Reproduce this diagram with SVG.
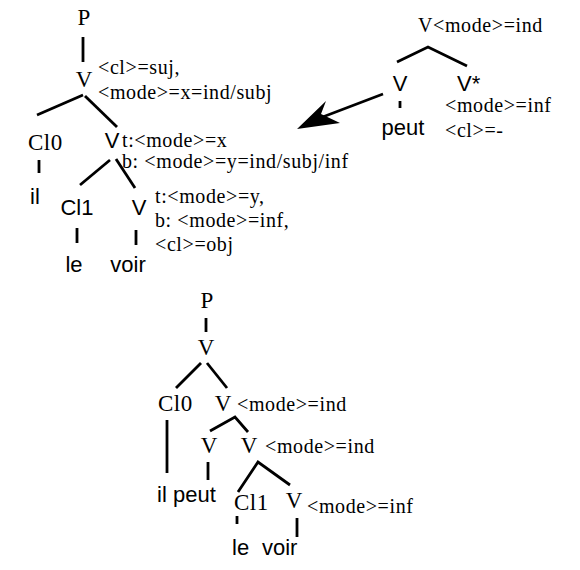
<svg xmlns="http://www.w3.org/2000/svg" width="580" height="570" viewBox="0 0 580 570">
<style>
.ann{font-family:"Liberation Serif","Times New Roman",serif;font-size:20px;letter-spacing:0.6px;fill:#000}
.ns{font-family:"Liberation Serif","Times New Roman",serif;font-size:23px;fill:#000}
.sn{font-family:"Liberation Sans",Arial,sans-serif;font-size:22px;fill:#000}
.m{text-anchor:middle}
.e{stroke:#000;stroke-width:2.8;fill:none;stroke-linecap:butt}
</style>
<rect width="580" height="570" fill="#fff"/>
<g id="connectors">
  <line class="e" x1="83" y1="37" x2="83" y2="62"/>
  <line class="e" x1="83" y1="95" x2="37" y2="115"/>
  <line class="e" x1="85" y1="96" x2="117" y2="127"/>
  <line class="e" x1="39" y1="160" x2="39" y2="173"/>
  <line class="e" x1="110" y1="160" x2="80" y2="185"/>
  <line class="e" x1="116" y1="159" x2="135" y2="188"/>
  <line class="e" x1="77" y1="228" x2="77" y2="243"/>
  <line class="e" x1="136" y1="230" x2="136" y2="245"/>
  <polyline class="e" points="397,62 428,47 467,66"/>
  <line class="e" x1="400" y1="101" x2="400" y2="108"/>
  <line class="e" x1="383" y1="94" x2="320" y2="118" stroke-width="4.5"/>
  <polygon points="297,129 326,101 321,114 340,123" fill="#000"/>
  <line class="e" x1="206" y1="318" x2="206" y2="332"/>
  <line class="e" x1="201" y1="363" x2="176" y2="388"/>
  <line class="e" x1="207" y1="363" x2="227" y2="388"/>
  <line class="e" x1="167" y1="420" x2="167" y2="473"/>
  <polyline class="e" points="210,431 235,417 248,432"/>
  <line class="e" x1="208" y1="462" x2="208" y2="480"/>
  <polyline class="e" points="238,492 258,462 290,485"/>
  <line class="e" x1="237" y1="516" x2="237" y2="524"/>
  <line class="e" x1="297" y1="518" x2="297" y2="537"/>
</g>
<g id="t1-P"><text class="ns m" x="84" y="25">P</text></g>
<g id="t1-V"><text class="ns m" x="84" y="87">V</text>
  <text class="ann" x="98" y="74">&lt;cl&gt;=suj,</text>
  <text class="ann" x="98" y="99">&lt;mode&gt;=x=ind/subj</text></g>
<g id="t1-Cl0"><text class="ns" x="28" y="150" letter-spacing="0.5">Cl0</text></g>
<g id="t1-il"><text class="sn" x="30" y="204">il</text></g>
<g id="t1-V2"><text class="sn m" x="112" y="148">V</text>
  <text class="ann" x="122" y="147">t:&lt;mode&gt;=x</text>
  <text class="ann" x="122" y="168">b: &lt;mode&gt;=y=ind/subj/inf</text></g>
<g id="t1-Cl1"><text class="sn m" x="77" y="215">Cl1</text></g>
<g id="t1-V3"><text class="sn m" x="139" y="215">V</text>
  <text class="ann" x="155" y="203">t:&lt;mode&gt;=y,</text>
  <text class="ann" x="155" y="227">b: &lt;mode&gt;=inf,</text>
  <text class="ann" x="155" y="251">&lt;cl&gt;=obj</text></g>
<g id="t1-le"><text class="sn m" x="74" y="272">le</text></g>
<g id="t1-voir"><text class="sn m" x="128" y="272">voir</text></g>
<g id="t2-root"><text class="ann" x="418" y="32">V&lt;mode&gt;=ind</text></g>
<g id="t2-V"><text class="sn m" x="400" y="91">V</text></g>
<g id="t2-Vstar"><text class="sn" x="457" y="91">V*</text>
  <text class="ann" x="445" y="112">&lt;mode&gt;=inf</text>
  <text class="ann" x="445" y="137">&lt;cl&gt;=-</text></g>
<g id="t2-peut"><text class="sn m" x="403" y="135">peut</text></g>
<g id="t3-P"><text class="ns m" x="207" y="308">P</text></g>
<g id="t3-V"><text class="ns m" x="206" y="355">V</text></g>
<g id="t3-Cl0"><text class="ns" x="158" y="411" letter-spacing="0.5">Cl0</text></g>
<g id="t3-V2"><text class="ns m" x="223" y="411">V</text>
  <text class="ann" x="237" y="411">&lt;mode&gt;=ind</text></g>
<g id="t3-V3"><text class="ns m" x="209" y="453">V</text></g>
<g id="t3-V4"><text class="ns m" x="249" y="453">V</text>
  <text class="ann" x="265" y="453">&lt;mode&gt;=ind</text></g>
<g id="t3-il"><text class="sn" x="157" y="502">il</text></g>
<g id="t3-peut"><text class="sn" x="173" y="502">peut</text></g>
<g id="t3-Cl1"><text class="ns" x="234" y="510" letter-spacing="0.5">Cl1</text></g>
<g id="t3-V5"><text class="ns m" x="294" y="508">V</text>
  <text class="ann" x="307" y="513">&lt;mode&gt;=inf</text></g>
<g id="t3-le"><text class="sn" x="232" y="555">le</text></g>
<g id="t3-voir"><text class="sn" x="262" y="555">voir</text></g>
</svg>
